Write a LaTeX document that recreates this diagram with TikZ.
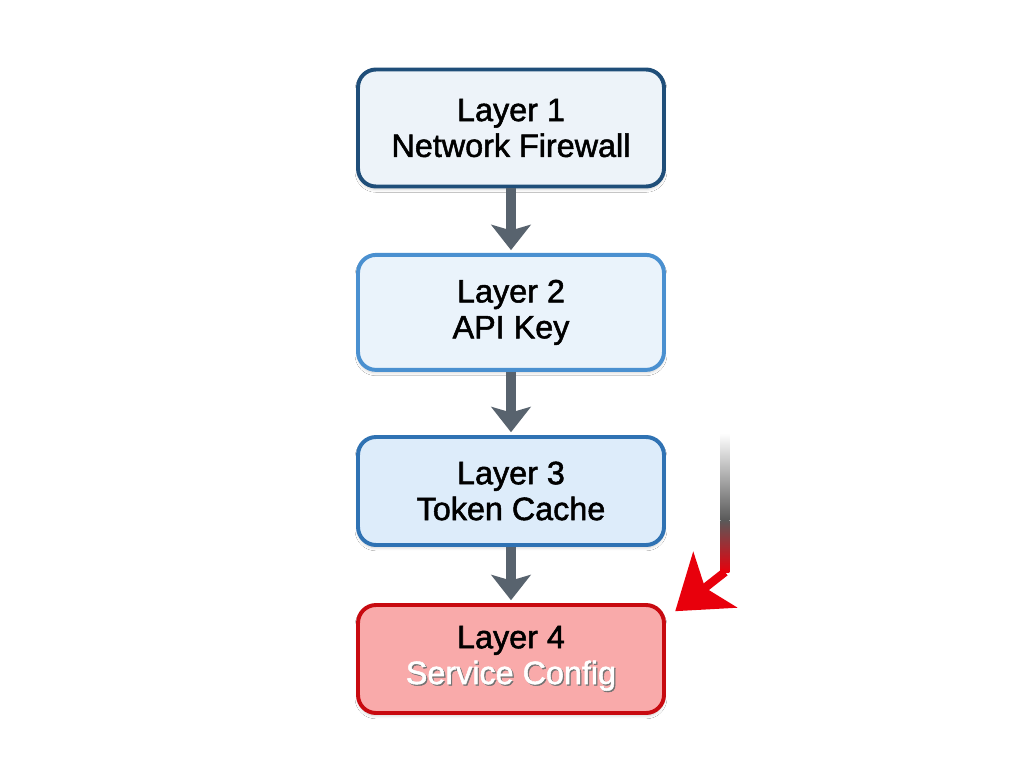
\documentclass[tikz,border=0pt]{standalone}
\usepackage{fontspec}
\setmainfont{Liberation Sans}
\newfontfamily\layerfont{Liberation Sans}[RawFeature={embolden=1.6}]
\usepackage{tikz}
\usetikzlibrary{arrows.meta,shapes,shadows.blur}
\definecolor{navy}{HTML}{1F4E79}
\definecolor{midblue}{HTML}{4A90D0}
\definecolor{deepblue}{HTML}{2F72B3}
\definecolor{alertred}{HTML}{C80A10}
\definecolor{brightred}{HTML}{E8000C}
\definecolor{arrowgray}{HTML}{58636E}
\definecolor{navyfill}{HTML}{EDF3F9}
\definecolor{keyfill}{HTML}{EAF3FB}
\definecolor{cachefill}{HTML}{DDECFA}
\definecolor{alertfill}{HTML}{F9AAAA}
\newcommand{\glowtext}[1]{\leavevmode\rlap{\kern0.9pt\raisebox{-0.9pt}{\textcolor{black!55}{#1}}}\textcolor{white}{#1}}
\tikzstyle{layer}=[rectangle,rounded corners=0.45cm,line width=2.8pt,minimum width=7.65cm,align=center,font=\layerfont\fontsize{23}{25.5}\selectfont,blur shadow={shadow xshift=0pt,shadow yshift=-2pt,shadow opacity=18,shadow blur steps=8}]
\tikzstyle{outer layer}=[layer,draw=navy,fill=navyfill,minimum height=2.925cm]
\tikzstyle{key layer}=[layer,draw=midblue,fill=keyfill,minimum height=2.875cm]
\tikzstyle{cache layer}=[layer,draw=deepblue,fill=cachefill,minimum height=2.7cm]
\tikzstyle{alert layer}=[layer,draw=alertred,fill=alertfill,minimum height=2.7cm]
\tikzstyle{edge} = [draw,arrowgray,line width=7pt,shorten >=2pt,-{Stealth[width=28pt,length=18pt,inset=4pt]}]

\begin{document}
\begin{tikzpicture}
        \useasboundingbox[fill=white] (0,0) rectangle (25.6,-19.2);
        \node[outer layer] (l1) at (12.775,-3.2) {Layer 1\\Network Firewall};
        \node[key layer] (l2) at (12.775,-7.81) {Layer 2\\API Key};
        \node[cache layer] (l3) at (12.775,-12.275) {Layer 3\\Token Cache};
        \node[alert layer] (l4) at (12.775,-16.475) {Layer 4\\\glowtext{Service Config}};
        \draw[edge] (l1) to (l2);
        \draw[edge] (l2) to (l3);
        \draw[edge] (l3) to (l4);
        % warning arrow on the right
        \coordinate (alert top) at (18.125,-10.83);
        \coordinate (alert mid) at (18.125,-13.0);
        \coordinate (alert bend) at (18.125,-14.3);
        \coordinate (alert tip) at (16.88,-15.28);
        \shade[top color=white,bottom color=black!65] ([xshift=-0.11cm]alert top) rectangle ([xshift=0.11cm]alert mid);
        \shade[top color=black!65,bottom color=brightred] ([xshift=-0.11cm]alert mid) rectangle ([xshift=0.11cm]alert bend);
        \draw[brightred,line width=6pt,-{Stealth[width=50pt,length=36pt,inset=9pt]}] (alert bend) to (alert tip);
\end{tikzpicture}
\end{document}
